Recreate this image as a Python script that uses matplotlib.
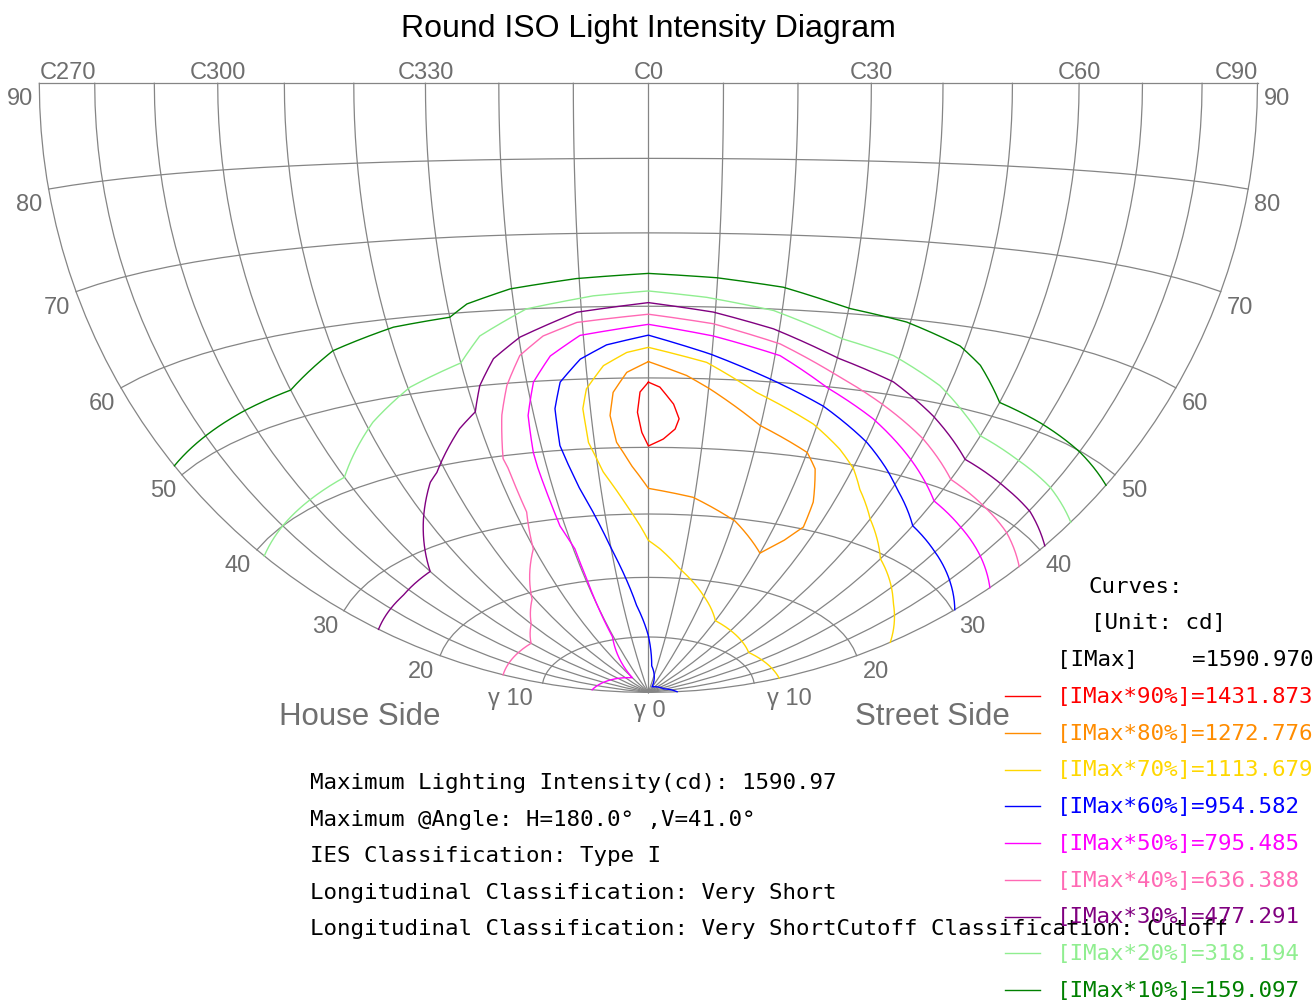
import numpy as np
import matplotlib
matplotlib.use("Agg")
import matplotlib.pyplot as plt
from matplotlib.transforms import Transform
from matplotlib.path import Path
from matplotlib.lines import Line2D

# ---------------- data ----------------
title = "Round ISO Light Intensity Diagram"
c_plane_ticks = list(range(-90, 91, 10))      # C270 (-90) ... C0 (0) ... C90 (90)
gamma_ticks = list(range(10, 91, 10))
c_label_pos = [-90, -60, -30, 0, 30, 60, 90]
c_label_txt = ["C270", "C300", "C330", "C0", "C30", "C60", "C90"]
gamma_label_pos = [20, 30, 40, 50, 60, 70, 80, 90]

imax = 1590.970
level_pct = [90, 80, 70, 60, 50, 40, 30, 20, 10]
level_cd = [1431.873, 1272.776, 1113.679, 954.582, 795.485, 636.388, 477.291, 318.194, 159.097]
level_color = ["#FF0000", "#FF8C00", "#FFD700", "#0000FF", "#FF00FF",
               "#FF69B4", "#800080", "#90EE90", "#008000"]

# iso-intensity curves: C angle (deg) and gamma angle (deg)
iso90_C = [0, -1.4, -1.9, -1.2, 0, 2.7, 4.8, 5.4, 4.3, 1.9, 0]
iso90_g = [49.4, 48.0, 45.1, 42.2, 40.2, 41.2, 42.7, 44.2, 46.3, 48.7, 49.4]

iso80_C = [0, -3.5, -5.9, -6.7, -5.9, -3.3, 0, 9.7, 20.4, 30, 34.0, 36.7, 35.7, 32.8, 30, 19.9, 10.2, 6.2, 0]
iso80_g = [52.3, 50.8, 48.0, 44.7, 40.8, 37.3, 33.9, 32.7, 29.6, 25.4, 27.8, 30.3, 34.0, 38.6, 40.7, 43.8, 48.6, 50.4, 52.3]

iso70_C = [90, 60, 30, 19.8, 9.5, 3.1, 0, -2.0, -4.8, -9.0, -11.1, -11.3, -10.3, -7.2, -3.4, 0,
           9.3, 18.1, 29.3, 35.8, 40.2, 43.7, 50.0, 60, 75.2, 90]
iso70_g = [12.4, 11.5, 14.0, 17.6, 21.5, 24.6, 25.9, 28.2, 31.3, 36.4, 40.9, 45.8, 48.6, 51.8, 53.6, 54.3,
           52.3, 48.4, 44.7, 41.8, 39.5, 37.0, 33.6, 29.4, 26.0, 23.4]

iso60_C = [90, 67, 18, 3.8, 0, -4.7, -9.9, -12.6, -14.4, -15.5, -16.5, -16.1, -14.5, -10.8, -6.5, 0,
           9.7, 19.9, 30, 40.2, 46.5, 50.9, 60, 69, 80.8, 90]
iso60_g = [2.7, 1.6, 1.1, 4.9, 10.2, 15.4, 24.7, 30.5, 34.1, 37.2, 40.7, 46.0, 49.7, 52.8, 54.7, 56.0,
           53.5, 50.4, 47.3, 43.3, 40.4, 38.3, 34.6, 33.2, 31.5, 30.2]

iso50_C = [-90, -30, -20.5, -19.6, -19.6, -21.2, -21.8, -21.8, -21.0, -18.9, -15.5, -10.5, 0,
           10.0, 20.8, 29.6, 39.5, 49.8, 60, 69.5, 79.9, 90]
iso50_g = [5.3, 3.1, 10.5, 20.4, 25.2, 28.9, 37.6, 40.0, 45.3, 49.9, 53.4, 56.1, 57.5,
           56.0, 53.7, 49.9, 46.5, 42.4, 38.3, 36.9, 35.5, 34.1]

iso40_C = [-90, -60, -50, -40.9, -30.3, -27.5, -27.6, -27.9, -25.6, -23.4, -20.3, -16.2, -10.8, 0,
           9.8, 20.5, 30.3, 39.4, 50.1, 60, 70.3, 79.9, 90]
iso40_g = [13.8, 13.6, 15.8, 19.0, 26.1, 31.6, 38.1, 39.6, 45.6, 49.7, 53.7, 56.2, 57.9, 58.9,
           57.7, 55.3, 51.8, 48.8, 45.2, 41.4, 40.1, 39.0, 37.5]

iso30_C = [-90, -73, -60, -50.7, -44.2, -41.8, -33.8, -30, -27.9, -24.6, -19.8, -10.7, 0,
           9.7, 19.1, 30, 40.4, 49.7, 60, 72, 80.4, 90]
iso30_g = [26.3, 26.6, 27.3, 33.7, 38.1, 39.2, 44.5, 46.5, 50.0, 53.5, 56.2, 59.3, 60.5,
           59.3, 57.3, 54.0, 51.7, 48.3, 44.2, 42.9, 42.1, 40.6]

iso20_C = [-90, -80, -60, -48.6, -39.6, -30, -26.0, -18.2, -8.1, 0, 8.6, 18.7, 30, 38.9, 48.4, 54.6, 60, 69.4, 79.8, 90]
iso20_g = [39.1, 40.0, 41.7, 47.3, 50.9, 53.3, 56.7, 60.0, 61.5, 62.1, 61.3, 59.8, 56.6, 55.1, 52.2, 49.6, 47.4, 46.3, 45.3, 43.9]

iso10_C = [-90, -70, -60, -50, -39.1, -30, -27.0, -20.2, -10.4, 0, 9.9, 19.7, 30, 39.4, 49.1, 53.7, 60, 69.1, 80.1, 90]
iso10_g = [51.1, 52.7, 53.4, 57.0, 58.9, 59.5, 61.1, 62.8, 63.9, 64.5, 64.0, 63.0, 60.7, 59.6, 57.5, 55.6, 51.8, 51.0, 49.9, 48.7]

iso_curves = [(iso90_C, iso90_g), (iso80_C, iso80_g), (iso70_C, iso70_g), (iso60_C, iso60_g),
              (iso50_C, iso50_g), (iso40_C, iso40_g), (iso30_C, iso30_g), (iso20_C, iso20_g),
              (iso10_C, iso10_g)]

info_lines = [
    "Maximum Lighting Intensity(cd): 1590.97",
    "Maximum @Angle: H=180.0° ,V=41.0°",
    "IES Classification: Type I",
    "Longitudinal Classification: Very Short",
    "Longitudinal Classification: Very ShortCutoff Classification: Cutoff",
]


# ---------------- projection (Lambert azimuthal equal-area, centred on C0 horizon) ----------------
class RoundIsoTransform(Transform):
    input_dims = 2
    output_dims = 2
    is_separable = False
    has_inverse = False

    def transform_non_affine(self, values):
        v = np.asarray(values, dtype=float).reshape(-1, 2)
        c = np.deg2rad(v[:, 0])
        g = np.deg2rad(v[:, 1])
        dx = np.sin(g) * np.sin(c)
        dy = np.sin(g) * np.cos(c)
        dz = -np.cos(g)
        k = np.sqrt(2.0 / (1.0 + dy))
        return np.column_stack([k * dx, k * dz])

    def transform_path_non_affine(self, path):
        ip = path.interpolated(40)
        return Path(self.transform_non_affine(ip.vertices), ip.codes)


W, H = 1313, 1003
fig = plt.figure(figsize=(W / 100, H / 100), dpi=100)
fig.patch.set_facecolor("white")
ax = fig.add_axes([0, 0, 1, 1])
ax.axis("off")
S, X0, Y0 = 430.7, 648.4, 84.3
ax.set_xlim(-X0 / S, (W - X0) / S)
ax.set_ylim((Y0 - H) / S, Y0 / S)
ax.set_autoscale_on(False)
T = RoundIsoTransform() + ax.transData

grid_col = "#858585"
for c in c_plane_ticks:
    ax.plot([c, c], [0, 90], transform=T, color=grid_col, lw=0.9, zorder=1)
for g in gamma_ticks:
    ax.plot([-90, 90], [g, g], transform=T, color=grid_col, lw=0.9, zorder=1)

for (cc, gg), col in zip(iso_curves, level_color):
    ax.plot(cc, gg, transform=T, color=col, lw=1.0, zorder=3)

sans = ["Liberation Sans", "DejaVu Sans"]
lab_col = "#6e6e6e"
lab_fs = 17
for c, t in zip(c_label_pos, c_label_txt):
    ha = "left" if c == -90 else ("right" if c == 90 else "center")
    ax.annotate(t, xy=(c, 90), xycoords=T, xytext=(0, 5), textcoords="offset pixels",
                ha=ha, va="baseline", fontsize=lab_fs, color=lab_col, family=sans)

for g in gamma_label_pos:
    ax.annotate(str(g), xy=(-90, g), xycoords=T, xytext=(-19, -15), textcoords="offset pixels",
                ha="center", va="center", fontsize=lab_fs, color=lab_col, family=sans)
    ax.annotate(str(g), xy=(90, g), xycoords=T, xytext=(19, -15), textcoords="offset pixels",
                ha="center", va="center", fontsize=lab_fs, color=lab_col, family=sans)
ax.annotate("γ 10", xy=(-90, 10), xycoords=T, xytext=(-32, -15), textcoords="offset pixels",
            ha="center", va="center", fontsize=lab_fs, color=lab_col, family=sans)
ax.annotate("γ 10", xy=(90, 10), xycoords=T, xytext=(35, -15), textcoords="offset pixels",
            ha="center", va="center", fontsize=lab_fs, color=lab_col, family=sans)
ax.annotate("γ 0", xy=(0, 0), xycoords=T, xytext=(1, -18), textcoords="offset pixels",
            ha="center", va="center", fontsize=lab_fs, color=lab_col, family=sans)


def px(x, y):
    return x / W, 1 - y / H


fig.text(*px(648, 29), title, ha="center", va="center", fontsize=23,
         family=sans, color="black")
fig.text(*px(360, 717), "House Side", ha="center", va="center", fontsize=22.5,
         family=sans, color="#707070")
fig.text(*px(932, 717), "Street Side", ha="center", va="center", fontsize=22.5,
         family=sans, color="#707070")

mono = ["DejaVu Sans Mono", "Liberation Mono"]
for i, line in enumerate(info_lines):
    fig.text(*px(310, 783 + 36.6 * i), line, ha="left", va="center", fontsize=16.2,
             family=mono, color="black")

fig.text(*px(1089, 587), "Curves:", ha="left", va="center", fontsize=16.2, family=mono, color="black")
fig.text(*px(1091, 623), "[Unit: cd]", ha="left", va="center", fontsize=16.2, family=mono, color="black")
fig.text(*px(1057, 660), "[IMax]    ={:.3f}".format(imax), ha="left", va="center", fontsize=16.2,
         family=mono, color="black")
for i, (p, v, col) in enumerate(zip(level_pct, level_cd, level_color)):
    yy = 697 + 36.75 * i
    x1, y1 = px(1005, yy)
    x2, _ = px(1040, yy)
    fig.add_artist(Line2D([x1, x2], [y1, y1], transform=fig.transFigure, color=col, lw=1.0))
    fig.text(x1 + 52 / W, y1, "[IMax*{}%]={:.3f}".format(p, v), ha="left", va="center",
             fontsize=16.2, family=mono, color=col)

fig.savefig("out.png", dpi=100, facecolor="white")
